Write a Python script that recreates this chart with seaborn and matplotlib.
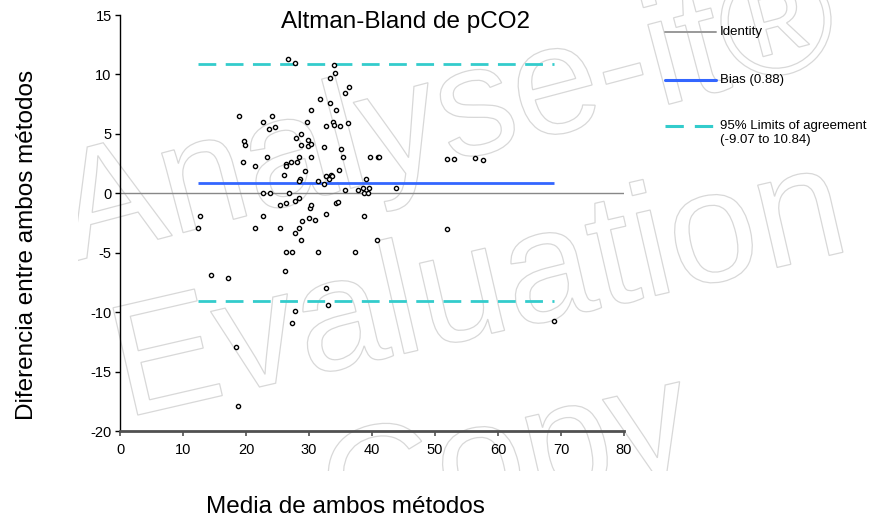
import numpy as np
import pandas as pd
import matplotlib
matplotlib.use("Agg")
import matplotlib.pyplot as plt
import seaborn as sns
from matplotlib.lines import Line2D
from matplotlib.textpath import TextPath
from matplotlib.patches import PathPatch
from matplotlib.font_manager import FontProperties
from matplotlib.transforms import Affine2D, Bbox

# ---------------- data ----------------
mean_vals = [
    26.74, 27.80, 33.95, 34.20, 33.36, 36.38, 35.79, 31.77, 33.36, 30.39,
    34.36, 18.95, 24.19, 22.76, 29.75, 33.79, 36.17, 23.62, 24.62, 32.77,
    33.95, 34.95, 28.80, 27.96, 29.82, 19.75, 19.81, 28.80, 29.82, 30.39,
    32.36, 35.15, 23.35, 28.39, 30.39, 35.42, 39.71, 40.99, 41.19, 19.59,
    21.40, 27.16, 28.12, 26.37, 26.42, 29.39, 34.79, 26.05, 32.72, 33.47,
    33.68, 33.25, 38.97, 28.55, 28.39, 31.41, 32.36, 35.79, 37.76, 38.55,
    39.51, 38.76, 39.35, 43.80, 22.76, 23.78, 26.80, 28.39, 26.37, 25.37,
    27.75, 30.18, 30.39, 34.36, 34.58, 12.76, 22.76, 32.77, 38.76, 12.39,
    21.40, 25.37, 28.39, 28.96, 29.98, 30.98, 27.75, 28.80, 40.78, 26.37,
    27.37, 31.41, 37.38, 26.16, 14.41, 17.20, 32.77, 32.99, 27.75, 27.37,
    51.95, 52.95, 56.35, 57.55, 51.95, 68.94, 18.38, 18.75,
]
diff_vals = [
    11.33, 10.93, 10.76, 10.13, 9.73, 8.98, 8.41, 7.97, 7.58, 7.02,
    7.02, 6.54, 6.54, 5.98, 5.98, 6.02, 5.90, 5.45, 5.54, 5.62,
    5.73, 5.70, 4.95, 4.67, 4.50, 4.36, 4.03, 4.03, 3.94, 4.11,
    3.86, 3.75, 3.02, 3.02, 3.02, 3.02, 3.02, 3.02, 3.02, 2.63,
    2.27, 2.60, 2.63, 2.43, 2.27, 1.87, 1.99, 1.51, 1.45, 1.51,
    1.45, 1.23, 1.23, 1.23, 1.01, 1.03, 0.76, 0.28, 0.28, 0.48,
    0.48, 0.03, 0.03, 0.48, 0.03, 0.03, 0.03, -0.42, -0.84, -1.01,
    -0.65, -1.20, -1.01, -0.81, -0.73, -1.95, -1.95, -1.76, -1.95, -2.96,
    -2.96, -2.96, -2.96, -2.32, -2.12, -2.24, -3.33, -3.92, -3.92, -4.92,
    -4.92, -4.92, -4.92, -6.52, -6.90, -7.11, -7.94, -9.42, -9.90, -10.91,
    2.91, 2.91, 2.99, 2.83, -2.99, -10.74, -12.90, -17.93,
]
bias = 0.88
loa_low = -9.07
loa_high = 10.84

x_ticks = [0, 10, 20, 30, 40, 50, 60, 70, 80]
y_ticks = [-20, -15, -10, -5, 0, 5, 10, 15]

title = "Altman-Bland de pCO2"
x_label = "Media de ambos métodos"
y_label = "Diferencia entre ambos métodos"
legend_labels = ["Identity", f"Bias ({bias:.2f})", "95% Limits of agreement",
                 f"({loa_low:.2f} to {loa_high:.2f})"]
watermark = ["Analyse-it®", "Evaluation", "Copy"]

df = pd.DataFrame({"mean": mean_vals, "diff": diff_vals})

# ---------------- style ----------------
sns.set_theme(style="white")
plt.rcParams["font.family"] = ["Liberation Sans", "DejaVu Sans"]
plt.rcParams["axes.unicode_minus"] = False

W, H = 872, 518
fig = plt.figure(figsize=(W / 100, H / 100), dpi=100)
fig.patch.set_facecolor("white")

# ---------------- watermark (outlined text, clipped) ----------------
fp = FontProperties(family="Liberation Sans")
wm_clip = Bbox.from_extents(78, H - 471, W, H)
wm_specs = [  # (text, x_px, y_px_from_top, em_px, angle)
    (watermark[0], 72, 262, 156, 14.8),
    (watermark[1], 125, 418, 160, 13.0),
    (watermark[2], 335, 548, 160, 13.0),
]
for s, xp, yp, em, ang in wm_specs:
    tp = TextPath((0, 0), s, size=em, prop=fp)
    tr = Affine2D().rotate_deg(ang).translate(xp, H - yp)
    patch = PathPatch(tp, transform=tr, facecolor="none",
                      edgecolor="#d8d8d8", lw=0.9, zorder=-5)
    fig.add_artist(patch)
    patch.set_clip_on(True)
    patch.set_clip_box(wm_clip)

# ---------------- axes ----------------
ax = fig.add_axes([120 / W, 1 - 431 / H, 504 / W, (431 - 15) / H])
ax.patch.set_alpha(0)

# identity line across the full x range
ax.hlines(0, x_ticks[0], x_ticks[-1], color="#888888", lw=1.0, zorder=2)

xmin, xmax = min(mean_vals), max(mean_vals)
ax.hlines(bias, xmin, xmax, color="#3366FF", lw=2.0, zorder=2)
ax.hlines([loa_high, loa_low], xmin, xmax, color="#33CCCC", lw=2.0,
          linestyles=[(0, (6.4, 3.4))], zorder=2)

sns.scatterplot(data=df, x="mean", y="diff", ax=ax, marker="o", s=9,
                facecolor="white", edgecolor="black", linewidth=1.0,
                zorder=3, legend=False)

ax.set_xlim(x_ticks[0], x_ticks[-1])
ax.set_ylim(y_ticks[0], y_ticks[-1])
ax.set_xticks(x_ticks)
ax.set_yticks(y_ticks)
ax.set_xlabel("")
ax.set_ylabel("")

for side in ["top", "right"]:
    ax.spines[side].set_visible(False)
ax.spines["left"].set_color("black")
ax.spines["left"].set_linewidth(1.0)
ax.spines["bottom"].set_color("#505050")
ax.spines["bottom"].set_linewidth(2.0)

ax.tick_params(axis="y", direction="out", length=3.5, width=1.0,
               color="black", pad=2.5, labelsize=10.5, labelcolor="black",
               left=True)
ax.tick_params(axis="x", direction="out", length=3.5, width=1.2,
               color="#505050", pad=5, labelsize=10.5, labelcolor="black",
               bottom=True)

# ---------------- texts ----------------
fig.text(405.5 / W, 1 - 28.3 / H, title, ha="center", va="baseline",
         fontsize=17.5, color="black")
fig.text(345.5 / W, 1 - 513 / H, x_label, ha="center", va="baseline",
         fontsize=17.5, color="black")
fig.text(27 / W, 1 - 245 / H, y_label, ha="center", va="center",
         rotation=90, fontsize=17.5, color="black")

# ---------------- legend (outside, right) ----------------
def fx(px):
    return px / W

def fy(py):
    return 1 - py / H

x0, x1, xt = 665, 716, 720
fig.add_artist(Line2D([fx(x0), fx(x1)], [fy(32), fy(32)], color="#999999",
                      lw=1.4, transform=fig.transFigure))
fig.add_artist(Line2D([fx(x0), fx(x1)], [fy(79.5), fy(79.5)], color="#3366FF",
                      lw=2.2, transform=fig.transFigure))
fig.add_artist(Line2D([fx(x0), fx(x1)], [fy(126), fy(126)], color="#33CCCC",
                      lw=2.2, linestyle=(0, (6.0, 3.6)),
                      transform=fig.transFigure))
for lbl, yy in zip(legend_labels, [32, 79.5, 126, 140]):
    fig.text(fx(xt), fy(yy), lbl, ha="left", va="center", fontsize=9.5,
             color="black")

fig.savefig("out.png", dpi=100)
